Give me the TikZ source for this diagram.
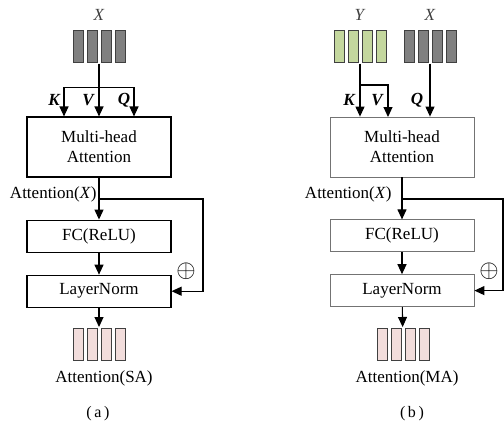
\documentclass[tikz,border=0pt]{standalone}
\usepackage{fontspec}
\setmainfont{Liberation Serif}
\usetikzlibrary{arrows.meta,positioning,fit}
\definecolor{tokgray}{RGB}{128,128,128}
\definecolor{tokgreen}{RGB}{196,215,158}
\definecolor{tokpink}{RGB}{242,221,220}
\tikzset{
  blk/.style={draw, line width=1.1pt, minimum width=144pt, inner sep=0pt, align=center, font=\fontsize{17}{20}\selectfont},
  lightblk/.style={blk, draw=black!55, line width=0.8pt},
  bar/.style={draw=black!75, line width=0.9pt, minimum width=10pt, minimum height=32pt, inner sep=0pt},
  arr/.style={-{Triangle[length=10pt,width=9pt]}},
  lbl/.style={font=\fontsize{17}{20}\selectfont, inner sep=1pt},
  kvq/.style={font=\fontsize{17}{20}\selectfont\bfseries\itshape, inner sep=0pt},
  plus/.style={inner sep=0pt, font=\fontsize{25}{25}\selectfont},
}
\begin{document}
\begin{tikzpicture}[x=1pt,y=-1pt,line width=1.1pt]
    \useasboundingbox (0,0) rectangle (504,423);
    % (a) self attention
    \foreach \i in {1,...,4} {
        \node[bar, fill=tokgray] (xa\i) at ({64+14*\i},46.5) {};
        \node[bar, fill=tokpink] (sa\i) at ({64+14*\i},344) {};
    }
    \node[fit=(xa1) (xa4), inner sep=0pt] (xa) {};
    \node[fit=(sa1) (sa4), inner sep=0pt] (sa) {};
    \node[lbl, text=black!75] (xla) at (99,15) {\textit{X}};
    \node[blk, minimum height=60pt] (mha) at (99,147) {Multi-head\\Attention};
    \node[blk, minimum height=32pt, below=42pt of mha] (fca) {FC(ReLU)};
    \node[blk, minimum height=32pt, below=22pt of fca] (lna) {LayerNorm};
    \draw (xa.south) -- ++(0,24) coordinate (ja);
    \draw[arr] (ja) -- (mha.north);
    \draw[arr] (ja) -| ([xshift=-35pt]mha.north);
    \draw[arr] (ja) -| ([xshift=35pt]mha.north);
    \node[kvq] (ka) at (54,100) {K};
    \node[kvq] (va) at (88,100) {V};
    \node[kvq] (qa) at (124,100) {Q};
    \draw[arr] (mha) -- (fca);
    \node[lbl, anchor=east] (atta) at (98,194) {Attention(\textit{X})};
    \draw[arr] (mha.south |- 0,199) -- (203,199) |- (lna.east);
    \node[plus] (pla) at (186,271) {$\oplus$};
    \draw[arr] (fca) -- (lna);
    \draw[arr] (lna) -- (sa);
    \node[lbl] (saname) at (104,378) {Attention(SA)};
    \node[lbl, font=\fontsize{16}{18}\selectfont] (capa) at (98,414) {(\,a\,)};
    % (b) mutual attention
    \foreach \i in {1,...,4} {
        \node[bar, fill=tokgreen] (yb\i) at ({325+14*\i},46.5) {};
        \node[bar, fill=tokgray] (xb\i) at ({395+14*\i},46.5) {};
        \node[bar, fill=tokpink] (ma\i) at ({368+14*\i},344) {};
    }
    \node[fit=(yb1) (yb4), inner sep=0pt] (yb) {};
    \node[fit=(xb1) (xb4), inner sep=0pt] (xb) {};
    \node[fit=(ma1) (ma4), inner sep=0pt] (ma) {};
    \node[lbl, text=black!75] (ylb) at (360,15) {\textit{Y}};
    \node[lbl, text=black!75] (xlb) at (430,15) {\textit{X}};
    \node[lightblk, minimum height=60pt] (mhb) at (402,147) {Multi-head\\Attention};
    \node[lightblk, minimum height=32pt, below=42pt of mhb] (fcb) {FC(ReLU)};
    \node[lightblk, minimum height=32pt, below=22pt of fcb] (lnb) {LayerNorm};
    \draw[arr] (yb.south) -- (yb.south |- mhb.north);
    \draw[arr] (yb.south |- 0,85) -| (388,117);
    \draw[arr] (xb.south) -- (xb.south |- mhb.north);
    \node[kvq] (kb) at (349,100) {K};
    \node[kvq] (vb) at (377,100) {V};
    \node[kvq] (qb) at (417,100) {Q};
    \draw[arr] (mhb) -- (fcb);
    \node[lbl, anchor=east] (attb) at (393,194) {Attention(\textit{X})};
    \draw[arr] (mhb.south |- 0,199) -- (503,199) |- (lnb.east);
    \node[plus] (plb) at (489,271) {$\oplus$};
    \draw[arr] (fcb) -- (lnb);
    \draw[arr] (lnb) -- (ma);
    \node[lbl] (maname) at (407,378) {Attention(MA)};
    \node[lbl, font=\fontsize{16}{18}\selectfont] (capb) at (412,414) {(\,b\,)};
\end{tikzpicture}
\end{document}
